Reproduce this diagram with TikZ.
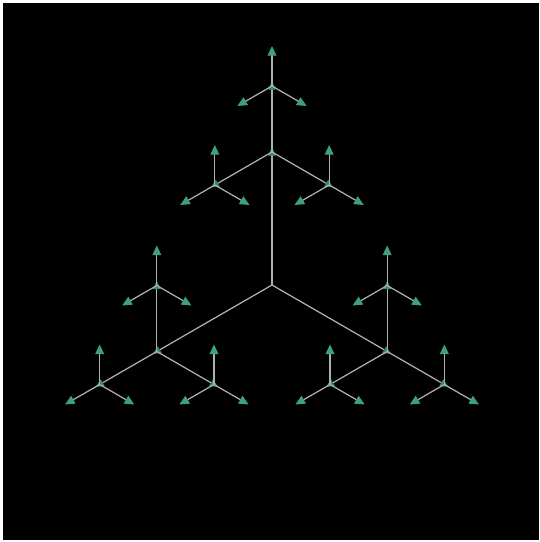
\documentclass[tikz,border=0pt]{standalone}
\usetikzlibrary{arrows.meta,calc}
\definecolor{tipgreen}{HTML}{3FA07E}
\definecolor{stemgrey}{HTML}{B0B0B0}

\begin{document}
\begin{tikzpicture}[x=0.02cm,y=0.02cm,
  branch/.style={draw=stemgrey,line width=0.7pt,-{Triangle[length=5.5pt,width=5pt,color=tipgreen]}},
  inner/.style={draw=stemgrey,line width=0.7pt,shorten >=-2.5pt,-{Triangle[length=4.5pt,width=4.5pt,color=tipgreen!85!black]}}]
\fill[white] (0,0) rectangle (539,542);
\fill[black] (3,2) rectangle (539,539);
\coordinate (r) at (272,257);
% three levels, each splitting three ways
\foreach \a [count=\i] in {90,210,330}{
  \coordinate (n\i) at ($(r)+(\a:133)$);
  \draw[inner] (r) -- (n\i);
  \foreach \b [count=\j] in {90,210,330}{
    \coordinate (n\i\j) at ($(n\i)+(\b:66)$);
    \draw[inner] (n\i) -- (n\i\j);
    \foreach \c [count=\k] in {90,210,330}{
      \coordinate (n\i\j\k) at ($(n\i\j)+(\c:40)$);
      \draw[branch] (n\i\j) -- (n\i\j\k);
    }
  }
}
\end{tikzpicture}
\end{document}
